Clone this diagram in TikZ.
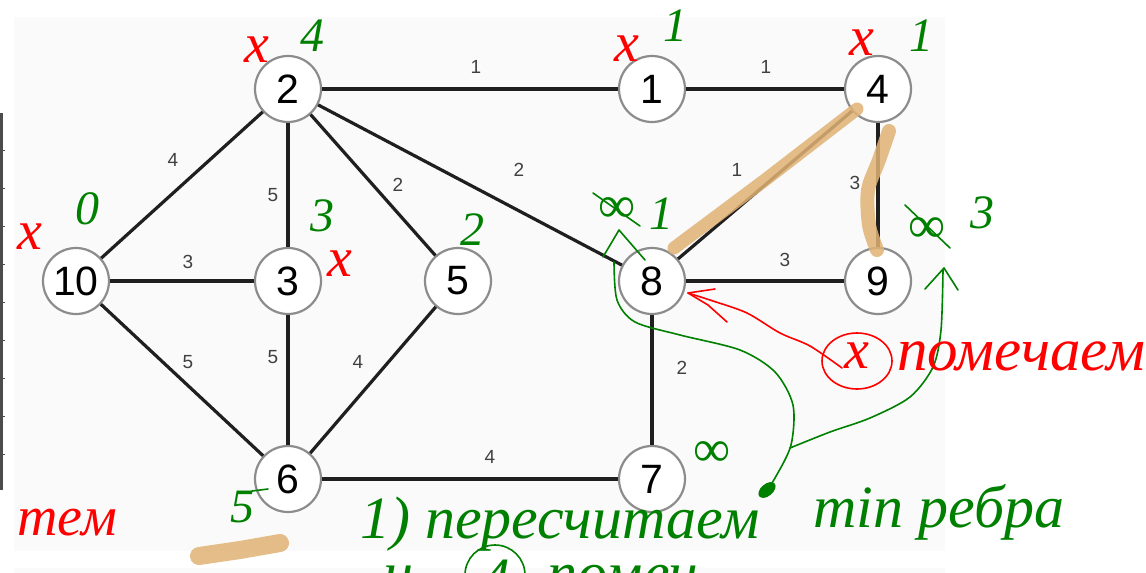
\documentclass[tikz,border=0pt]{standalone}
\usepackage{fontspec}
\setmainfont{Liberation Sans}
\newfontfamily\handfont{Liberation Serif}
\definecolor{paper}{RGB}{250,250,250}
\definecolor{greenink}{RGB}{0,128,0}
\definecolor{redink}{RGB}{255,0,0}
\definecolor{marker}{RGB}{224,178,116}

\begin{document}
\begin{tikzpicture}[x=1pt,y=-1pt,
  vertex/.style={circle,draw=black!45,line width=2.2pt,fill=white,minimum size=66pt,inner sep=0pt,font=\fontsize{41}{41}\selectfont},
  link/.style={line width=3.2pt,draw=black!88},
  weight/.style={font=\fontsize{19}{19}\selectfont,text=black!75,inner sep=0pt},
  greenpen/.style={draw=greenink,line width=1.6pt,line cap=round,line join=round},
  redpen/.style={draw=redink,line width=1.6pt,line cap=round,line join=round},
  highlight/.style={draw=marker,line width=13pt,line cap=round,line join=round,opacity=.85},
  gnote/.style={text=greenink,inner sep=0pt,font=\handfont\itshape\fontsize{48}{48}\selectfont},
  inf/.style={gnote,font=\handfont\fontsize{52}{52}\selectfont},
  rnote/.style={text=redink,inner sep=0pt,font=\handfont\itshape\fontsize{56}{56}\selectfont},
  rline/.style={rnote,font=\handfont\itshape\fontsize{61}{61}\selectfont},
  gline/.style={text=greenink,inner sep=0pt,font=\handfont\itshape\fontsize{60}{60}\selectfont},
]
  \useasboundingbox (0,0) rectangle (1146,573);
  \clip (0,0) rectangle (1146,573);
  \fill[white] (0,0) rectangle (1146,573);
  \fill[paper] (14,17) rectangle (945,551);
  \fill[paper] (14,568) rectangle (945,573);
  \fill[black!70] (0,113) rectangle (3,490);
  \foreach \y in {150,188,...,454}
    \draw[black!70,line width=1pt] (3,\y) -- (5,\y);

  \foreach \n/\x/\y in {2/288/89,1/652/89,4/878/89,10/76/281,3/288/281,
                        5/458/281,8/652/281,9/878/281,6/288/479,7/652/479}
    \node[vertex] (v\n) at (\x,\y) {\n};

  \foreach \a/\b/\w/\dx/\dy in {2/1/1/6/-22,1/4/1/1/-22,2/10/4/-9/-25,2/3/5/-15/10,
                                2/5/2/25/0,2/8/2/49/-15,4/8/1/-28/-15,4/9/3/-23/-2,
                                10/3/3/6/-19,8/9/3/20/-21,10/6/5/6/-18,3/6/5/-15/-23,
                                5/6/4/-15/-18,8/7/2/30/-12,6/7/4/20/-22}
    \draw[link] (v\a) -- node[weight,midway,shift={(\dx,\dy)}]{\w} (v\b);

  \draw[highlight] (857,109) -- (765,180) -- (674,248);
  \draw[highlight,line width=14pt] plot[smooth] coordinates {(889,131) (879,160) (868,190) (869,225) (877,250)};
  \draw[highlight,line width=18pt] (199,556) -- (240,550) -- (280,543);

  % distances
  \node[gnote] (d2) at (312,36) {4};
  \node[gnote] (d1) at (675,26) {1};
  \node[gnote] (d4) at (921,36) {1};
  \node[gnote] (d10) at (87,209) {0};
  \node[gnote] (d3) at (322,216) {3};
  \node[gnote] (d5) at (472,230) {2};
  \node[inf] (old8) at (617,210) {∞};
  \node[gnote] (d8) at (661,214) {1};
  \node[inf] (old9) at (927,230) {∞};
  \node[gnote] (d9) at (982,213) {3};
  \node[inf] (d7) at (712,454) {∞};
  \node[gnote] (d6) at (242,507) {5};
  \draw[greenpen] (593,193) -- (640,226);
  \draw[greenpen] (905,205) -- (950,248);
  \draw[greenpen] (252,491) -- (268,489);

  % visited
  \foreach \n/\x/\y in {2/257/50,1/627/49,4/862/43,10/30/237,3/340/264}
    \node[rnote] (x\n) at (\x,\y) {x};

  \draw[greenpen] (603,257) -- (619,230) -- (645,260);
  \draw[greenpen] plot[smooth] coordinates {(614,262) (617,300) (635,322) (680,335) (740,350)
                                            (775,372) (793,405) (791,445) (775,478) (763,496)};
  \draw[greenpen] plot[smooth] coordinates {(790,448) (830,432) (870,418) (910,397)
                                            (933,367) (941,330) (943,270)};
  \draw[greenpen] (925,289) -- (944,268) -- (958,290);
  \fill[greenink,rotate around={40:(767,490)}] (767,490) ellipse [x radius=10,y radius=6];

  \draw[redpen] plot[smooth] coordinates {(688,293) (713,301) (747,313) (780,333) (810,346) (842,368)};
  \draw[redpen] (715,289) -- (688,293) -- (708,305) -- (727,322);
  \draw[redpen] (857,361) ellipse [x radius=35,y radius=28];
  \node[rnote] (xc) at (857,356) {x};
  \node[rline,anchor=base west] (mark) at (897,370) {помечаем};
  \node[rnote,anchor=base east] (tail) at (117,535) {тем};

  \node[gline,anchor=base west] (step1) at (360,538) {1) пересчитаем};
  \node[gline,anchor=base west] (minedge) at (813,527) {min ребра};
  \node[gline,anchor=base west] (and) at (383,593) {и};
  \draw[greenpen] (495,575) circle [radius=30];
  \node[gline] (four) at (495,580) {4};
  \node[gline,anchor=base west] (step2) at (547,593) {помеч};
\end{tikzpicture}
\end{document}
